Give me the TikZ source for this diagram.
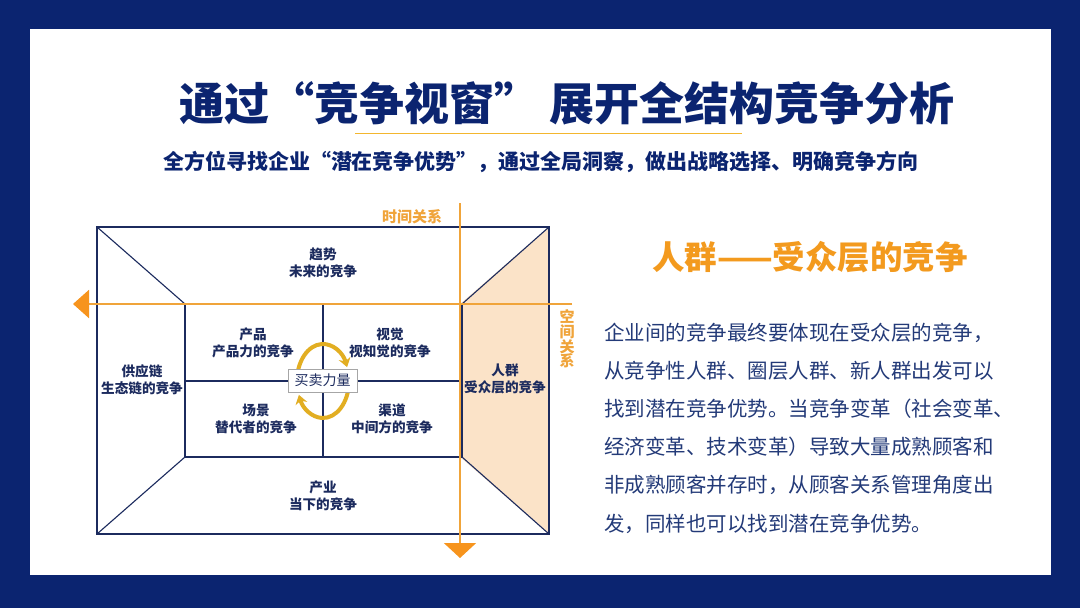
\documentclass[tikz,border=0pt]{standalone}
\usepackage{fontspec}
\setmainfont{Noto Sans CJK SC}
\usepackage{tikz}
\usetikzlibrary{arrows.meta,positioning,calc}

\definecolor{navy}{HTML}{0B2470}
\definecolor{ink}{HTML}{1C2B5E}
\definecolor{textblue}{HTML}{233A78}
\definecolor{axis}{HTML}{F0A43A}
\definecolor{tipor}{HTML}{F7941D}
\definecolor{heador}{HTML}{F39A1E}
\definecolor{peach}{HTML}{FBE3C8}
\definecolor{gold}{HTML}{E2AE22}

\tikzset{
  frameline/.style={draw=ink,line width=1.1pt},
  axisline/.style={draw=axis,line width=2pt},
  celltext/.style={font=\bfseries\fontsize{13.6}{17}\selectfont,text=ink,align=center,inner sep=0pt},
  axislabel/.style={font=\bfseries\fontsize{15}{14.6}\selectfont,text=axis,align=center,inner sep=0pt},
  turn/.style={draw=gold,line width=4pt,-{Stealth[length=9pt,width=12pt]}}
}

\begin{document}
\begin{tikzpicture}[x=1pt,y=-1pt]
  % page and frame
  \fill[navy] (0,0) rectangle (1080,608);
  \fill[white] (30,29) rectangle (1051,575);
  \useasboundingbox (0,0) rectangle (1080,608);

  % title block
  \node[font=\bfseries\fontsize{45}{50}\selectfont,text=navy,inner sep=0pt] (title) at (567,103)
    {通过“竞争视窗” 展开全结构竞争分析};
  \draw[draw=axis!80!yellow,line width=1pt] (355,133) -- (742,133);
  \node[font=\bfseries\fontsize{21}{24}\selectfont,text=navy,inner sep=0pt] (subtitle) at (541,162)
    {全方位寻找企业“潜在竞争优势”，通过全局洞察，做出战略选择、明确竞争方向};

  % window: corners
  \coordinate (o1) at (97,227);  \coordinate (o2) at (549,227);
  \coordinate (o3) at (549,534); \coordinate (o4) at (97,534);
  \coordinate (i1) at (185,304); \coordinate (i2) at (462,304);
  \coordinate (i3) at (462,457); \coordinate (i4) at (185,457);

  % shaded side (people)
  \fill[peach] (460,304) -- (o2) -- (o3) -- (460,457) -- cycle;

  % frame lines
  \draw[frameline] (o1) rectangle (o3);
  \draw[frameline] (i1) rectangle (i3);
  \foreach \a/\b in {o1/i1,o2/i2,o3/i3,o4/i4} \draw[frameline] (\a) -- (\b);
  \draw[frameline] (323,304) -- (323,457);
  \draw[frameline] (185,381) -- (462,381);

  % axes
  \coordinate (tstart) at (460,203); \coordinate (tend) at (460,558);
  \coordinate (sstart) at (572,304); \coordinate (send) at (73,304);
  \draw[axisline,-{Triangle[length=15pt,width=32pt,color=tipor]}] (tstart) -- (tend);
  \draw[axisline,-{Triangle[length=16pt,width=28pt,color=tipor]}] (sstart) -- (send);
  \node[axislabel] (timelbl) at (412,217) {时间关系};
  \node[axislabel] (spacelbl) at (567,339) {空\\间\\关\\系};

  % cell labels
  \node[celltext] (trend)  at (323,263) {趋势\\未来的竞争};
  \node[celltext] (prod)   at (253,343) {产品\\产品力的竞争};
  \node[celltext] (vision) at (390,343) {视觉\\视知觉的竞争};
  \node[celltext] (supply) at (142,380) {供应链\\生态链的竞争};
  \node[celltext] (scene)  at (256,419) {场景\\替代者的竞争};
  \node[celltext] (chan)   at (392,419) {渠道\\中间方的竞争};
  \node[celltext] (people) at (505,379) {人群\\受众层的竞争};
  \node[celltext] (indus)  at (323,496) {产业\\当下的竞争};

  % buying and selling cycle
  \draw[turn] (323,381) ++(178:26 and 37) arc[start angle=178,end angle=338,x radius=26,y radius=37];
  \draw[turn] (323,381) ++(2:26 and 37) arc[start angle=2,end angle=158,x radius=26,y radius=37];
  \node[draw=gray!70,fill=white,line width=0.8pt,minimum width=69pt,minimum height=23pt,
        inner sep=0pt,font=\fontsize{14}{16}\selectfont,text=ink] (force) at (322.5,380.5) {买卖力量};

  % right text
  \node[font=\bfseries\fontsize{32.5}{36}\selectfont,text=heador,inner sep=0pt] (head) at (810,257)
    {人群——受众层的竞争};
  \node[font=\fontsize{20.5}{38.2}\selectfont,text=textblue,align=left,inner sep=0pt,anchor=west] (body) at (604,428)
    {企业间的竞争最终要体现在受众层的竞争，\\
     从竞争性人群、圈层人群、新人群出发可以\\
     找到潜在竞争优势。当竞争变革（社会变革、\\
     经济变革、技术变革）导致大量成熟顾客和\\
     非成熟顾客并存时，从顾客关系管理角度出\\
     发，同样也可以找到潜在竞争优势。};
\end{tikzpicture}
\end{document}
